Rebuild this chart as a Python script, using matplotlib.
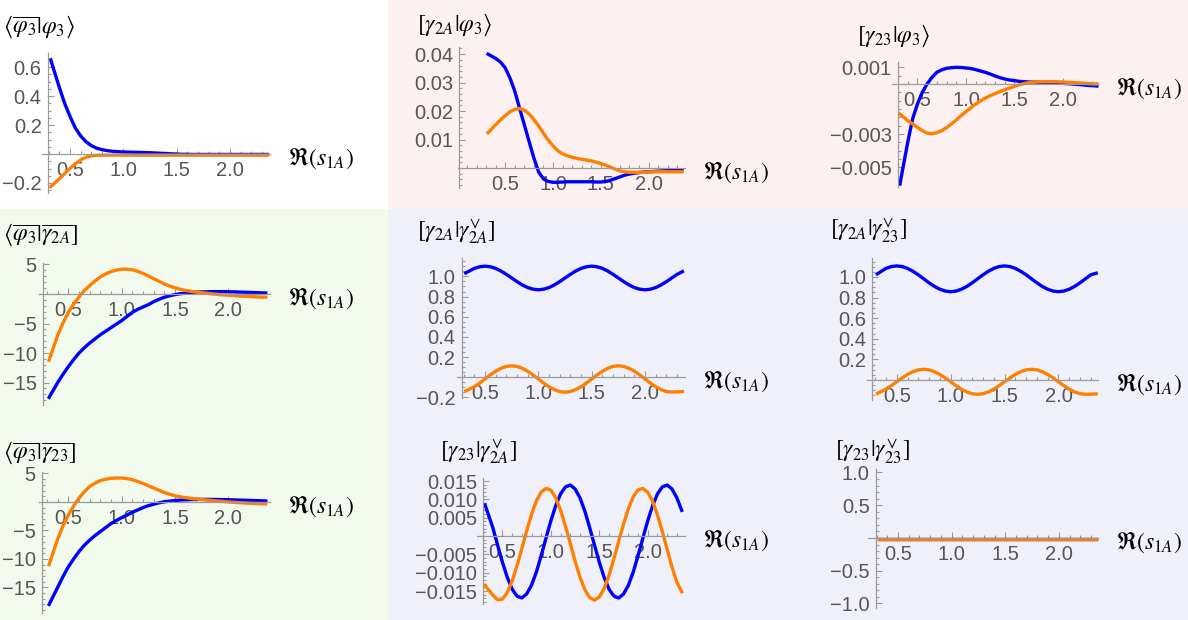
import numpy as np
import matplotlib
matplotlib.use('Agg')
import matplotlib.pyplot as plt
from matplotlib.patches import Rectangle
from matplotlib.ticker import FixedLocator, MultipleLocator, FuncFormatter

plt.rcParams['mathtext.fontset'] = 'stix'
plt.rcParams['font.family'] = ['Liberation Sans', 'DejaVu Sans']

# sample points along Re(s_1A)
x = [0.32, 0.40, 0.45, 0.50, 0.55, 0.60, 0.65, 0.70, 0.75, 0.80,
     0.85, 0.90, 0.95, 1.00, 1.05, 1.10, 1.15, 1.20, 1.25, 1.30,
     1.35, 1.40, 1.45, 1.50, 1.55, 1.60, 1.65, 1.70, 1.75, 1.80,
     1.85, 1.90, 1.95, 2.00, 2.05, 2.10, 2.15, 2.20, 2.25, 2.30, 2.35]

# <phi3bar|phi3>
phi_phi_blue = [0.65, 0.46, 0.35, 0.26, 0.18, 0.125, 0.085, 0.058, 0.040, 0.030,
                0.023, 0.019, 0.016, 0.014, 0.013, 0.012, 0.011, 0.010, 0.009, 0.007,
                0.005, 0.003, 0.001, 0.000, -0.002, -0.002, -0.003, -0.003, -0.003, -0.003,
                -0.003, -0.003, -0.003, -0.003, -0.003, -0.003, -0.003, -0.003, -0.003, -0.003, -0.003]
phi_phi_orange = [-0.225, -0.172, -0.135, -0.099, -0.068, -0.040, -0.022, -0.013, -0.009, -0.008,
                  -0.008, -0.008, -0.008, -0.008, -0.008, -0.008, -0.008, -0.008, -0.008, -0.008,
                  -0.008, -0.008, -0.008, -0.008, -0.008, -0.008, -0.008, -0.008, -0.008, -0.008,
                  -0.008, -0.008, -0.008, -0.008, -0.008, -0.008, -0.008, -0.008, -0.008, -0.008, -0.008]

# [gamma2A|phi3>
g2a_phi_blue = [0.0400, 0.0385, 0.0372, 0.0352, 0.0316, 0.0270, 0.0210, 0.0152, 0.0093, 0.0035,
                -0.0014, -0.0038, -0.0047, -0.0050, -0.0050, -0.0049, -0.0048, -0.0048, -0.0048, -0.0048,
                -0.0048, -0.0048, -0.0049, -0.0049, -0.0047, -0.0043, -0.0037, -0.0031, -0.0025, -0.0021,
                -0.0018, -0.0016, -0.0014, -0.0013, -0.0012, -0.0011, -0.0010, -0.0009, -0.0008, -0.0008, -0.0007]
g2a_phi_orange = [0.0124, 0.0152, 0.0169, 0.0184, 0.0198, 0.0206, 0.0209, 0.0203, 0.0190, 0.0170,
                  0.0148, 0.0122, 0.0098, 0.0078, 0.0061, 0.0050, 0.0043, 0.0038, 0.0034, 0.0031,
                  0.0028, 0.0025, 0.0021, 0.0016, 0.0010, 0.0003, -0.0004, -0.0010, -0.0013, -0.0015,
                  -0.0015, -0.0015, -0.0015, -0.0014, -0.0013, -0.0013, -0.0013, -0.0013, -0.0013, -0.0013, -0.0013]

# [gamma23|phi3>
g23_phi_blue = [-0.0060, -0.0035, -0.0021, -0.0012, -0.0005, 0.0000, 0.0004, 0.0007, 0.00085, 0.00094,
                0.00098, 0.0010, 0.00099, 0.00096, 0.00093, 0.00086, 0.00078, 0.00070, 0.00060, 0.00048,
                0.00038, 0.00030, 0.00024, 0.00020, 0.00016, 0.00014, 0.00012, 0.00011, 0.00010, 0.00008,
                0.00007, 0.00006, 0.00005, 0.00004, 0.00002, 0.00000, -0.00003, -0.00005, -0.00008, -0.00010, -0.00012]
g23_phi_orange = [-0.0018, -0.0022, -0.0024, -0.0026, -0.0028, -0.00295, -0.00298, -0.00292, -0.0028, -0.00262,
                  -0.0024, -0.00216, -0.0019, -0.00166, -0.00143, -0.0012, -0.00101, -0.00085, -0.0007, -0.00058,
                  -0.00046, -0.00035, -0.00024, -0.00014, -0.00005, 0.00003, 0.00008, 0.00011, 0.00013, 0.00014,
                  0.00014, 0.00014, 0.00013, 0.00012, 0.00010, 0.00009, 0.00007, 0.00005, 0.00003, 0.00001, 0.0]

# <phi3bar|gamma2Abar]
phi_g2a_blue = [-17.5, -15.0, -13.6, -12.3, -11.1, -10.0, -9.1, -8.3, -7.6, -6.9,
                -6.3, -5.7, -5.1, -4.5, -3.8, -3.1, -2.6, -2.2, -1.8, -1.3,
                -0.9, -0.55, -0.3, -0.1, 0.05, 0.15, 0.25, 0.3, 0.35, 0.38,
                0.4, 0.4, 0.4, 0.38, 0.36, 0.33, 0.3, 0.27, 0.24, 0.2, 0.17]
phi_g2a_orange = [-11.2, -7.0, -4.9, -3.1, -1.7, -0.5, 0.6, 1.4, 2.2, 2.9,
                  3.4, 3.8, 4.05, 4.2, 4.2, 4.1, 3.85, 3.5, 3.05, 2.6,
                  2.15, 1.7, 1.35, 1.05, 0.8, 0.6, 0.45, 0.33, 0.22, 0.12,
                  0.02, -0.07, -0.15, -0.22, -0.28, -0.34, -0.39, -0.44, -0.48, -0.52, -0.55]

# [gamma2A|gamma2A^v]
g2a_g2a_blue = [1.034, 1.079, 1.095, 1.101, 1.095, 1.079, 1.053, 1.020, 0.984, 0.948,
                0.915, 0.889, 0.873, 0.867, 0.873, 0.889, 0.915, 0.948, 0.984, 1.020,
                1.053, 1.079, 1.095, 1.101, 1.095, 1.079, 1.053, 1.020, 0.984, 0.948,
                0.915, 0.889, 0.873, 0.867, 0.873, 0.889, 0.915, 0.948, 0.984, 1.020, 1.047]
g2a_g2a_orange = [-0.135, -0.094, -0.057, -0.017, 0.024, 0.060, 0.089, 0.108, 0.114, 0.108,
                  0.089, 0.060, 0.024, -0.017, -0.057, -0.094, -0.122, -0.141, -0.148, -0.141,
                  -0.122, -0.094, -0.057, -0.017, 0.024, 0.060, 0.089, 0.108, 0.114, 0.108,
                  0.089, 0.060, 0.024, -0.017, -0.057, -0.094, -0.122, -0.141, -0.146, -0.144, -0.141]

# [gamma2A|gamma23^v]
g2a_g23_blue = [1.030, 1.083, 1.101, 1.107, 1.101, 1.083, 1.055, 1.021, 0.982, 0.943,
                0.908, 0.881, 0.863, 0.857, 0.863, 0.881, 0.908, 0.943, 0.982, 1.021,
                1.055, 1.083, 1.101, 1.107, 1.101, 1.083, 1.055, 1.021, 0.982, 0.943,
                0.908, 0.881, 0.863, 0.857, 0.863, 0.881, 0.908, 0.943, 0.982, 1.021, 1.036]
g2a_g23_orange = [-0.130, -0.089, -0.055, -0.017, 0.020, 0.054, 0.081, 0.098, 0.104, 0.098,
                  0.081, 0.054, 0.020, -0.017, -0.055, -0.089, -0.116, -0.133, -0.139, -0.133,
                  -0.116, -0.089, -0.055, -0.017, 0.020, 0.054, 0.081, 0.098, 0.104, 0.098,
                  0.081, 0.054, 0.020, -0.017, -0.055, -0.089, -0.116, -0.133, -0.138, -0.137, -0.135]

# <phi3bar|gamma23bar]
phi_g23_blue = [-18.0, -15.0, -13.1, -11.4, -10.0, -8.7, -7.6, -6.7, -5.9, -5.2,
                -4.5, -3.8, -3.25, -2.75, -2.3, -1.8, -1.4, -1.0, -0.65, -0.4,
                -0.15, 0.03, 0.15, 0.25, 0.33, 0.38, 0.42, 0.45, 0.45, 0.45,
                0.44, 0.43, 0.41, 0.39, 0.36, 0.33, 0.3, 0.27, 0.24, 0.21, 0.18]
phi_g23_orange = [-11.0, -6.5, -4.2, -2.3, -0.7, 0.7, 1.8, 2.7, 3.3, 3.75,
                  4.0, 4.15, 4.2, 4.2, 4.1, 3.9, 3.6, 3.25, 2.85, 2.45,
                  2.05, 1.65, 1.35, 1.1, 0.9, 0.75, 0.62, 0.52, 0.42, 0.33,
                  0.24, 0.16, 0.08, 0.0, -0.06, -0.12, -0.18, -0.23, -0.27, -0.31, -0.34]

# [gamma23|gamma2A^v]
g23_g2a_blue = [0.0085, 0.0023, -0.0025, -0.0072, -0.0113, -0.0145, -0.0164, -0.0169, -0.0158, -0.0134,
                -0.0098, -0.0053, -0.0005, 0.0042, 0.0083, 0.0115, 0.0134, 0.0139, 0.0128, 0.0104,
                0.0068, 0.0023, -0.0025, -0.0072, -0.0113, -0.0145, -0.0164, -0.0169, -0.0158, -0.0134,
                -0.0098, -0.0053, -0.0005, 0.0042, 0.0083, 0.0115, 0.0134, 0.0139, 0.0128, 0.0104, 0.0070]
g23_g2a_orange = [-0.0135, -0.0161, -0.0174, -0.0172, -0.0154, -0.0123, -0.0081, -0.0034, 0.0014, 0.0059,
                  0.0096, 0.0120, 0.0130, 0.0125, 0.0104, 0.0070, 0.0027, -0.0020, -0.0069, -0.0112,
                  -0.0146, -0.0168, -0.0175, -0.0166, -0.0143, -0.0107, -0.0062, -0.0014, 0.0033, 0.0075,
                  0.0107, 0.0126, 0.0130, 0.0119, 0.0095, 0.0057, 0.0012, -0.0037, -0.0085, -0.0126, -0.0152]

# [gamma23|gamma23^v]
g23_g23_blue = [-0.02] * 41
g23_g23_orange = [-0.02] * 41

titles = [r'$\langle\overline{\varphi_3}|\varphi_3\rangle$',
          r'$[\gamma_{2A}|\varphi_3\rangle$',
          r'$[\gamma_{23}|\varphi_3\rangle$',
          r'$\langle\overline{\varphi_3}|\overline{\gamma_{2A}}]$',
          r'$[\gamma_{2A}|\gamma_{2A}^{\vee}]$',
          r'$[\gamma_{2A}|\gamma_{23}^{\vee}]$',
          r'$\langle\overline{\varphi_3}|\overline{\gamma_{23}}]$',
          r'$[\gamma_{23}|\gamma_{2A}^{\vee}]$',
          r'$[\gamma_{23}|\gamma_{23}^{\vee}]$']

series = [(phi_phi_blue, phi_phi_orange), (g2a_phi_blue, g2a_phi_orange), (g23_phi_blue, g23_phi_orange),
          (phi_g2a_blue, phi_g2a_orange), (g2a_g2a_blue, g2a_g2a_orange), (g2a_g23_blue, g2a_g23_orange),
          (phi_g23_blue, phi_g23_orange), (g23_g2a_blue, g23_g2a_orange), (g23_g23_blue, g23_g23_orange)]

x_ticks = [0.5, 1.0, 1.5, 2.0]
y_ticks = [[0.6, 0.4, 0.2, -0.2],
           [0.04, 0.03, 0.02, 0.01],
           [0.001, -0.003, -0.005],
           [5, -5, -10, -15],
           [1.0, 0.8, 0.6, 0.4, 0.2, -0.2],
           [1.0, 0.8, 0.6, 0.4, 0.2],
           [5, -5, -10, -15],
           [0.015, 0.010, 0.005, -0.005, -0.010, -0.015],
           [1.0, 0.5, -0.5, -1.0]]

# layout: pixel box (x0, x1, y0, y1), xlim, ylim, y-axis position, minor step, decimals, title pos
layout = [
    ((42, 270, 53, 193), (0.238, 2.374), (-0.269, 0.697), 0.294, 0.05, 1, (3, 27)),
    ((458, 685, 47, 188), (0.006, 2.381), (-0.0070, 0.0425), 0.02, 0.002, 2, (417, 25)),
    ((892, 1098, 62, 187), (0.238, 2.361), (-0.00618, 0.00132), 0.299, 0.0005, 3, (857, 36)),
    ((39, 270, 263, 405), (0.225, 2.39), (-18.8, 5.25), 0.263, 1, 0, (3, 235)),
    ((457, 685, 258, 398), (0.238, 2.374), (-0.205, 1.182), 0.282, 0.05, 1, (417, 232)),
    ((867, 1098, 258, 400), (0.224, 2.367), (-0.194, 1.184), 0.275, 0.05, 1, (830, 231)),
    ((39, 270, 472, 613), (0.225, 2.39), (-19.5, 5.26), 0.254, 1, 0, (3, 453)),
    ((477, 685, 478, 604), (0.237, 2.384), (-0.01854, 0.01582), 0.302, 0.001, 3, (440, 452)),
    ((868, 1098, 469, 608), (0.220, 2.364), (-1.069, 1.053), 0.295, 0.1, 1, (835, 452)),
]

W, H = 1188, 620
fig = plt.figure(figsize=(W / 100, H / 100), dpi=100)
fig.patch.set_facecolor('white')

# coloured blocks behind the panels
for (bx0, by0, bx1, by1, col) in [(388, 0, W, 209, '#fdf0f0'),
                                  (0, 209, 388, H, '#f2faee'),
                                  (388, 209, W, H, '#f0f0fb')]:
    fig.patches.append(Rectangle((bx0 / W, 1 - by1 / H), (bx1 - bx0) / W, (by1 - by0) / H,
                                 transform=fig.transFigure, facecolor=col, edgecolor='none', zorder=-10))

axis_col = '#9a9a9a'
label_col = '#555555'

for i, ((px0, px1, py0, py1), xl, yl, yx, minor, dec, tpos) in enumerate(layout):
    ax = fig.add_axes([px0 / W, 1 - py1 / H, (px1 - px0) / W, (py1 - py0) / H])
    ax.patch.set_visible(False)
    blue, orange = series[i]
    ax.plot(x, blue, color='#0000ff', lw=2.4, clip_on=False)
    ax.plot(x, orange, color='#ff8000', lw=2.4, clip_on=False)
    ax.set_xlim(*xl)
    ax.set_ylim(*yl)

    for s in ['top', 'right']:
        ax.spines[s].set_visible(False)
    ax.spines['left'].set_position(('data', yx))
    ax.spines['bottom'].set_position(('data', 0))
    for s in ['left', 'bottom']:
        ax.spines[s].set_color(axis_col)
        ax.spines[s].set_linewidth(0.9)

    ax.xaxis.set_major_locator(FixedLocator(x_ticks))
    ax.xaxis.set_minor_locator(MultipleLocator(0.1))
    ax.xaxis.set_major_formatter(FuncFormatter(lambda v, p: f'{v:.1f}'))
    ax.yaxis.set_major_locator(FixedLocator(y_ticks[i]))
    ax.yaxis.set_minor_locator(MultipleLocator(minor))
    ax.yaxis.set_major_formatter(FuncFormatter(
        lambda v, p, d=dec: f'{v:.{d}f}'.replace('-', '\u2212')))

    ax.tick_params(which='both', direction='in', color=axis_col, width=0.8,
                   labelcolor=label_col, labelsize=14.5)
    ax.tick_params(which='major', length=4)
    ax.tick_params(which='minor', length=2)
    ax.tick_params(axis='x', pad=5)
    ax.tick_params(axis='y', pad=4.5)

    fig.text(tpos[0] / W, 1 - tpos[1] / H, titles[i], ha='left', va='center',
             fontsize=17, color='black')
    ax.annotate(r'$\Re(s_{1A})$', xy=(1, 0), xycoords=('axes fraction', 'data'),
                xytext=(18, -4.5), textcoords='offset pixels', ha='left', va='center',
                fontsize=17, color='black', annotation_clip=False)

fig.savefig('out.png', dpi=100)
